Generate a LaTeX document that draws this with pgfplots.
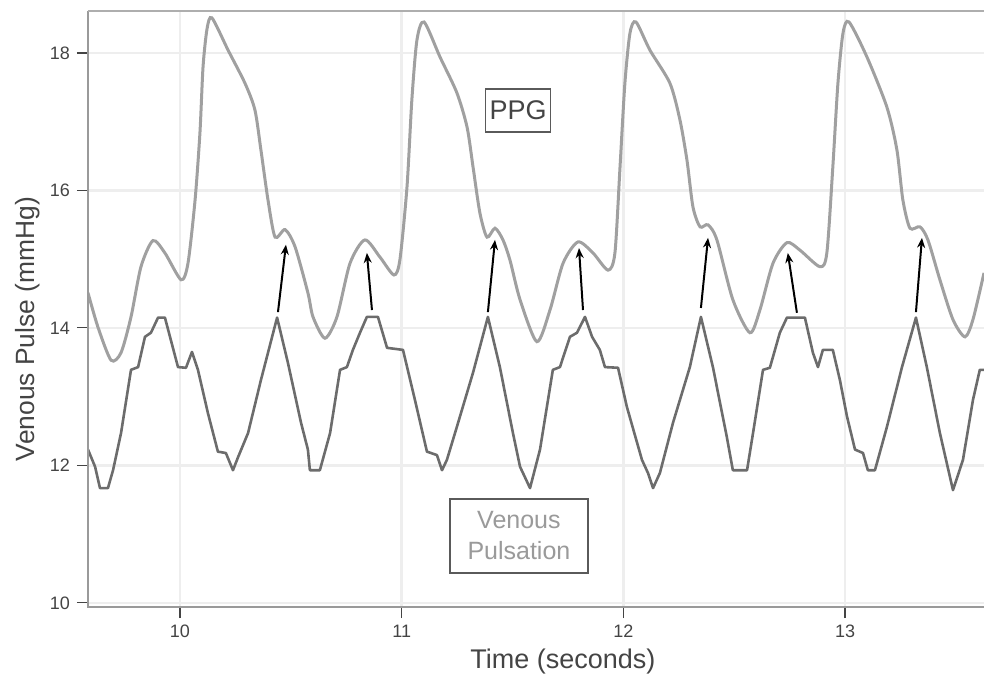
\documentclass[border=0pt]{standalone}
\usepackage{fontspec}
\setmainfont{Liberation Sans}
\usepackage{pgfplots}
\pgfplotsset{compat=1.18}
\usetikzlibrary{arrows.meta}

\definecolor{ppgline}{HTML}{A0A0A0}
\definecolor{venline}{HTML}{6C6C6C}
\definecolor{gridc}{HTML}{EEEEEE}
\definecolor{axisc}{HTML}{9A9A9A}
\definecolor{tickc}{HTML}{444444}
\definecolor{boxc}{HTML}{5A5A5A}
\definecolor{vtext}{HTML}{9A9A9A}

\begin{document}
\begin{tikzpicture}
\begin{axis}[
  name=ax,
  scale only axis, width=448pt, height=298pt,
  xmin=9.585, xmax=13.627, ymin=9.94, ymax=18.61,
  axis line style={draw=none},
  xtick={10,11,12,13}, ytick={10,12,14,16,18},
  xtick pos=bottom, ytick pos=left,
  tick align=outside, major tick length=5.5pt,
  tick style={tickc, line width=0.6pt},
  grid=major, major grid style={gridc, line width=1.3pt},
  ticklabel style={font=\fontsize{9}{10}\selectfont, text=tickc},
  /pgf/number format/assume math mode=true,
  clip mode=individual,
]
% venous pressure trace
\addplot[venline, line width=1.3pt, line join=round] table {
9.585 12.23
9.617 11.98
9.639 11.67
9.675 11.67
9.698 11.93
9.734 12.47
9.779 13.39
9.811 13.43
9.842 13.87
9.869 13.93
9.901 14.15
9.932 14.15
9.991 13.43
10.027 13.42
10.054 13.65
10.081 13.39
10.126 12.76
10.171 12.20
10.207 12.18
10.239 11.93
10.262 12.12
10.307 12.47
10.365 13.24
10.438 14.15
10.487 13.49
10.546 12.62
10.577 12.23
10.586 11.93
10.631 11.93
10.677 12.47
10.722 13.39
10.753 13.43
10.780 13.68
10.812 13.93
10.843 14.16
10.893 14.16
10.934 13.71
11.006 13.68
11.060 12.95
11.114 12.20
11.159 12.15
11.182 11.93
11.204 12.08
11.249 12.56
11.322 13.35
11.389 14.16
11.443 13.43
11.502 12.47
11.534 11.98
11.579 11.67
11.624 12.23
11.682 13.39
11.714 13.43
11.759 13.87
11.791 13.93
11.827 14.16
11.859 13.87
11.894 13.68
11.917 13.43
11.976 13.42
12.016 12.85
12.084 12.08
12.111 11.89
12.134 11.67
12.165 11.89
12.224 12.62
12.300 13.43
12.350 14.16
12.404 13.43
12.467 12.41
12.494 11.93
12.558 11.93
12.585 12.47
12.630 13.39
12.661 13.42
12.706 13.93
12.738 14.15
12.819 14.15
12.855 13.64
12.878 13.43
12.900 13.68
12.945 13.68
12.977 13.24
13.009 12.71
13.045 12.23
13.081 12.18
13.103 11.93
13.135 11.93
13.189 12.56
13.257 13.43
13.320 14.15
13.369 13.43
13.428 12.47
13.487 11.64
13.532 12.08
13.577 12.95
13.608 13.39
13.627 13.39
};
% photoplethysmogram trace
\addplot[ppgline, line width=1.5pt, smooth, tension=0.45] table {
9.585 14.51
9.630 14.01
9.689 13.53
9.734 13.64
9.779 14.16
9.824 14.89
9.878 15.27
9.932 15.09
10.005 14.70
10.036 14.94
10.068 15.86
10.090 16.84
10.104 17.80
10.122 18.35
10.144 18.51
10.217 18.04
10.293 17.56
10.338 17.17
10.365 16.59
10.397 15.86
10.429 15.32
10.474 15.43
10.519 15.18
10.577 14.51
10.600 14.16
10.654 13.85
10.708 14.16
10.767 14.94
10.834 15.28
10.902 15.03
10.965 14.77
10.992 14.99
11.024 16.05
11.046 17.32
11.069 18.19
11.101 18.45
11.173 17.94
11.249 17.42
11.295 16.92
11.322 16.34
11.353 15.67
11.385 15.32
11.421 15.45
11.457 15.28
11.489 14.98
11.534 14.41
11.610 13.80
11.669 14.26
11.728 14.94
11.795 15.25
11.863 15.09
11.931 14.84
11.962 15.09
11.985 16.34
12.007 17.56
12.030 18.29
12.057 18.45
12.120 18.04
12.210 17.56
12.255 17.03
12.287 16.44
12.314 15.76
12.346 15.47
12.382 15.50
12.422 15.28
12.494 14.41
12.571 13.93
12.616 14.26
12.675 14.94
12.738 15.24
12.797 15.13
12.887 14.89
12.918 15.09
12.945 16.34
12.968 17.56
12.991 18.29
13.018 18.45
13.099 17.94
13.189 17.21
13.234 16.59
13.261 15.86
13.293 15.45
13.338 15.47
13.374 15.28
13.428 14.70
13.487 14.12
13.541 13.87
13.577 14.12
13.627 14.80
};
% frame: left, bottom and top edges
\draw[axisc, line width=1pt] (rel axis cs:0,1) -- (rel axis cs:0,0) -- (rel axis cs:1,0);
\draw[axisc!80, line width=1pt] (rel axis cs:0,1) -- (rel axis cs:1,1);
% arrows from venous peaks to the PPG notches
\begin{scope}[black, line width=1pt, -{Stealth[length=5pt,width=4pt]}]
\draw (axis cs:10.442,14.23) -- (axis cs:10.478,15.21);
\draw (axis cs:10.866,14.26) -- (axis cs:10.843,15.09);
\draw (axis cs:11.389,14.23) -- (axis cs:11.421,15.28);
\draw (axis cs:11.818,14.26) -- (axis cs:11.800,15.16);
\draw (axis cs:12.350,14.29) -- (axis cs:12.382,15.31);
\draw (axis cs:12.783,14.22) -- (axis cs:12.742,15.09);
\draw (axis cs:13.320,14.23) -- (axis cs:13.347,15.31);
\end{scope}
% trace labels
\node[draw=boxc, line width=0.8pt, fill=white, minimum width=32.5pt, minimum height=21.5pt, inner sep=0pt,
      font=\fontsize{13.5}{15}\selectfont, text=tickc] at (axis cs:11.525,17.16) {PPG};
\node[draw=boxc, line width=0.8pt, fill=white, align=center, minimum width=69pt, minimum height=37pt, inner sep=0pt,
      font=\fontsize{12.5}{15.5}\selectfont, text=vtext] at (axis cs:11.529,10.975) {Venous\\Pulsation};
% axis titles
\node[rotate=90, anchor=base, font=\fontsize{13.2}{15}\selectfont, text=tickc]
  at ([xshift=-26.5pt]rel axis cs:0,0.4664) {Venous Pulse (mmHg)};
\node[anchor=base, font=\fontsize{13.5}{15}\selectfont, text=tickc]
  at ([yshift=-30.5pt]rel axis cs:0.530,0) {Time (seconds)};
\end{axis}
\pgfresetboundingbox
\path[use as bounding box] ([xshift=-44pt,yshift=-34pt]ax.south west) rectangle ([yshift=5.5pt]ax.north east);
\end{tikzpicture}
\end{document}
